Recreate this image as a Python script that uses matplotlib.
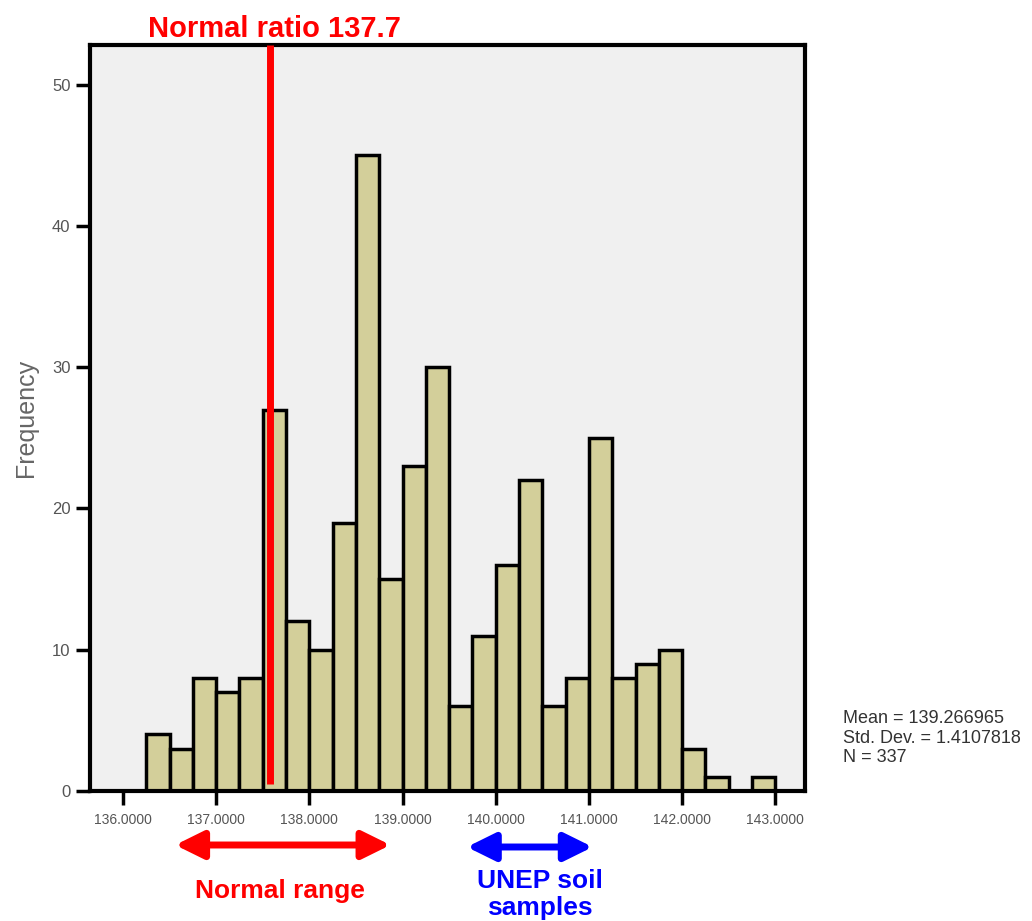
import matplotlib
matplotlib.use("Agg")
import matplotlib.pyplot as plt
import numpy as np

plt.rcParams['font.family'] = ['Liberation Sans', 'DejaVu Sans']

bin_edges = [136.25, 136.5, 136.75, 137.0, 137.25, 137.5, 137.75, 138.0, 138.25,
             138.5, 138.75, 139.0, 139.25, 139.5, 139.75, 140.0, 140.25, 140.5,
             140.75, 141.0, 141.25, 141.5, 141.75, 142.0, 142.25, 142.5, 142.75, 143.0]
counts = [4, 3, 8, 7, 8, 27, 12, 10, 19, 45, 15, 23, 30, 6, 11, 16, 22, 6, 8, 25,
          8, 9, 10, 3, 1, 0, 1]
x_ticks = [136, 137, 138, 139, 140, 141, 142, 143]
y_ticks = [0, 10, 20, 30, 40, 50]
normal_ratio = 137.58
normal_range = (136.56, 138.87)
unep_range = (139.69, 141.04)
stats_lines = ["Mean = 139.266965", "Std. Dev. = 1.4107818", "N = 337"]

fig = plt.figure(figsize=(10.32, 9.21), dpi=100)
ax = fig.add_axes([90/1032, 130/921, 715/1032, 746/921])
ax.set_facecolor('#f0f0f0')

lefts = np.array(bin_edges[:-1])
widths = np.diff(bin_edges)
ax.bar(lefts, counts, width=widths, align='edge', color='#d3cf9a',
       edgecolor='black', linewidth=2.5, zorder=2)

ax.set_xlim(135.646, 143.318)
ax.set_ylim(0, 52.8)
ax.set_xticks(x_ticks)
ax.set_xticklabels([f"{v:.4f}" for v in x_ticks])
ax.set_yticks(y_ticks)
ax.set_yticklabels([str(v) for v in y_ticks])
ax.tick_params(axis='both', direction='out', length=10, width=2.5, color='black',
               labelcolor='#555555')
ax.tick_params(axis='x', pad=6, labelsize=10)
ax.tick_params(axis='y', pad=4, labelsize=12)
for s in ax.spines.values():
    s.set_linewidth(3)
ax.set_ylabel("Frequency", fontsize=18, color='#666666', labelpad=10)

# Normal ratio line
ax.plot([normal_ratio, normal_ratio], [0.5, 52.8], color='red', linewidth=5,
        zorder=3, clip_on=False, solid_capstyle='butt')
ax.annotate("Normal ratio 137.7", xy=(normal_ratio + 0.05, 884), xycoords=('data', 'figure pixels'),
            ha='center', va='baseline', color='red', fontsize=21, fontweight='bold',
            annotation_clip=False)

# Arrows
arrow_style = '<|-|>,head_length=0.85,head_width=0.42'
ax.annotate("", xy=(normal_range[0], 76), xytext=(normal_range[1], 76),
            xycoords=('data', 'figure pixels'), textcoords=('data', 'figure pixels'),
            arrowprops=dict(arrowstyle=arrow_style, color='red', lw=5, mutation_scale=20,
                            shrinkA=0, shrinkB=0), annotation_clip=False)
ax.annotate("", xy=(unep_range[0], 74), xytext=(unep_range[1], 74),
            xycoords=('data', 'figure pixels'), textcoords=('data', 'figure pixels'),
            arrowprops=dict(arrowstyle=arrow_style, color='blue', lw=5, mutation_scale=20,
                            shrinkA=0, shrinkB=0), annotation_clip=False)
ax.annotate("Normal range", xy=(137.68, 23), xycoords=('data', 'figure pixels'),
            ha='center', va='baseline', color='red', fontsize=19, fontweight='bold',
            annotation_clip=False)
ax.annotate("UNEP soil", xy=(140.47, 33), xycoords=('data', 'figure pixels'),
            ha='center', va='baseline', color='blue', fontsize=19, fontweight='bold',
            annotation_clip=False)
ax.annotate("samples", xy=(140.47, 6), xycoords=('data', 'figure pixels'),
            ha='center', va='baseline', color='blue', fontsize=19, fontweight='bold',
            annotation_clip=False)

fig.text(843/1032, 1 - 738/921, "\n".join(stats_lines), ha='left', va='center',
         fontsize=13, color='#333333', linespacing=1.22)

fig.savefig("out.png", dpi=100)
